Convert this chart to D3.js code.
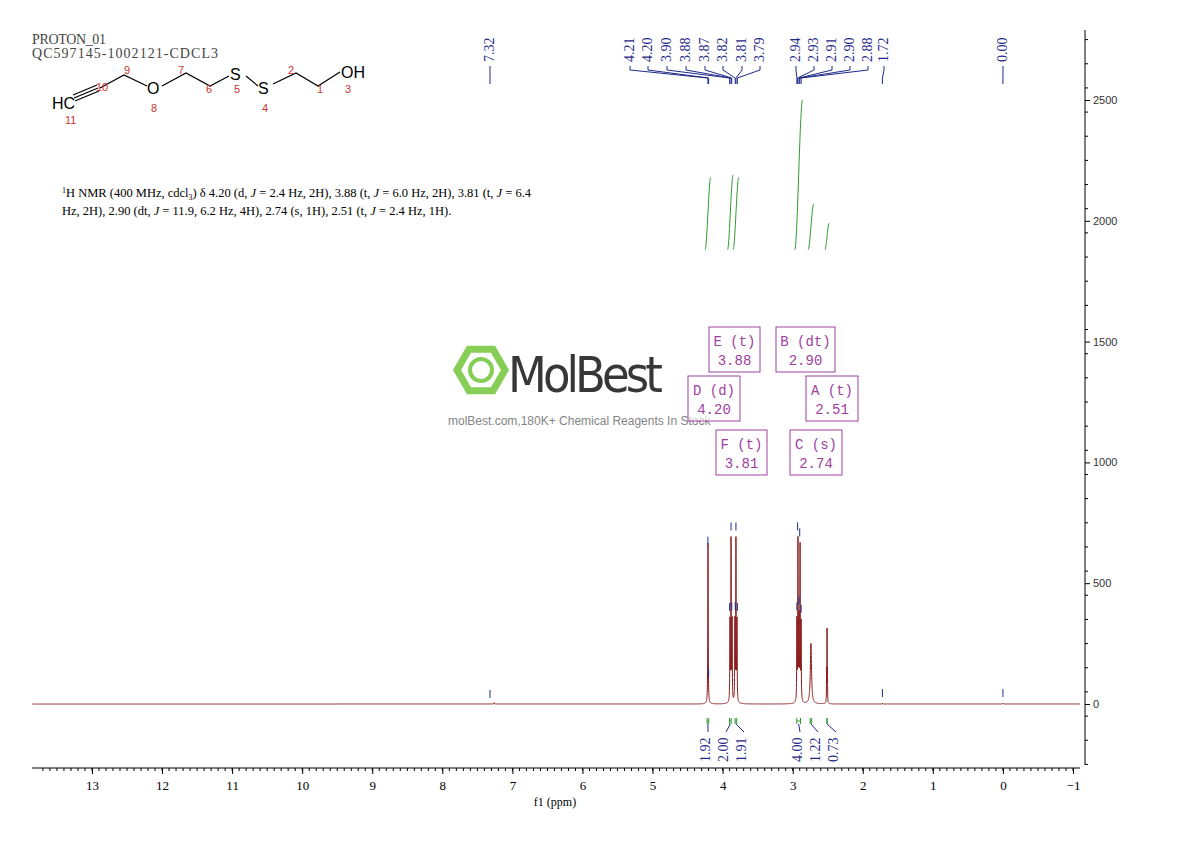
<!DOCTYPE html>
<html><head><meta charset="utf-8">
<script src="https://cdn.jsdelivr.net/npm/d3@7"></script>
<style>body{margin:0;background:#fff}</style>
</head><body>
<svg id="c" width="1190" height="841"></svg>
<script>
// peak lines: ppm and height (intensity units)
const peakPpm    = [7.26, 4.2095, 4.2075, 3.895, 3.880, 3.865, 3.825, 3.810, 3.795, 2.940, 2.925, 2.910, 2.895, 2.880, 2.74, 2.516, 2.510, 2.504, 1.72, 0.00];
const peakHeight = [6,    375,    375,    330,   665,   330,   330,   665,   330,   330,   660,   330,   635,   320,   250, 120,   290,   120,   4,    4];
const peakWidth  = [0.004,0.003,0.003,0.003,0.003,0.003,0.003,0.003,0.003,0.003,0.003,0.003,0.003,0.003,0.010,0.002,0.002,0.002,0.004,0.004];
const topLabels  = ["7.32","4.21","4.20","3.90","3.88","3.87","3.82","3.81","3.79","2.94","2.93","2.91","2.90","2.88","1.72","0.00"];
const topLabelPpm= [7.32,4.21,4.20,3.90,3.88,3.87,3.82,3.81,3.79,2.94,2.93,2.91,2.90,2.88,1.72,0.00];
const intFrom    = [4.25, 3.93, 3.85, 2.97, 2.78, 2.54];
const intTo      = [4.17, 3.85, 3.77, 2.86, 2.70, 2.48];
const intRise    = [300, 310, 300, 620, 190, 110];
const intValues  = ["1.92","2.00","1.91","4.00","1.22","0.73"];
const multLetter = ["E (t)","B (dt)","D (d)","A (t)","F (t)","C (s)"];
const multShift  = ["3.88","2.90","4.20","2.51","3.81","2.74"];
const xTicks = d3.range(13, -2, -1);
const yTicks = [0, 500, 1000, 1500, 2000, 2500];

const svg = d3.select("#c");
const x = d3.scaleLinear().domain([13.856, -1.1]).range([32, 1080]);
const y = d3.scaleLinear().domain([0, 2500]).range([704, 100]);
const serif = "'Liberation Serif', 'DejaVu Serif', serif";
const blue = "#1f2a8a", purple = "#a040a0", green = "#2f9a2f", red = "#8b1a1a";
const intensity = p => d3.sum(peakPpm, (c, i) => peakHeight[i] / (1 + ((p - c) / peakWidth[i]) ** 2));

// x axis
const xa = svg.append("g").attr("transform", "translate(0,768)")
  .call(d3.axisBottom(x).tickValues(xTicks).tickSize(6).tickFormat(d => d < 0 ? "\u2212" + (-d) : d));
xa.select(".domain").attr("d", "M32,0H1080");
xa.selectAll("text").attr("font-family", serif).attr("font-size", 13).attr("dy", "1.0em");
svg.append("g").selectAll("line").data(d3.range(-10, 138).map(d => d / 10)).join("line")
  .attr("x1", d => x(d)).attr("x2", d => x(d)).attr("y1", 768).attr("y2", 771).attr("stroke", "#000");
svg.append("text").attr("x", 555).attr("y", 806).attr("text-anchor", "middle")
  .attr("font-family", serif).attr("font-size", 12).text("f1 (ppm)");

// y axis right
const ya = svg.append("g").attr("transform", "translate(1085,0)")
  .call(d3.axisRight(y).tickValues(yTicks).tickSize(5).tickFormat(d3.format("d")));
ya.select(".domain").attr("d", "M0,30V765");
ya.selectAll("text").attr("font-family", "'Liberation Sans', sans-serif").attr("font-size", 11).attr("fill", "#333");
svg.append("g").selectAll("line").data(d3.range(-250, 2800, 100)).join("line")
  .attr("x1", 1085).attr("x2", 1088).attr("y1", d => y(d)).attr("y2", d => y(d)).attr("stroke", "#000");

// watermark
const wm = svg.append("g").attr("opacity", 0.9);
const hex = d3.range(6).map(i => [481 + 24 * Math.cos(Math.PI / 3 * i), 370 + 24 * Math.sin(Math.PI / 3 * i)]);
wm.append("polygon").attr("points", hex.join(" ")).attr("fill", "none").attr("stroke", "#7ac943").attr("stroke-width", 7);
wm.append("circle").attr("cx", 481).attr("cy", 370).attr("r", 11).attr("fill", "none").attr("stroke", "#7ac943").attr("stroke-width", 4);
wm.append("text").attr("x", 508).attr("y", 392).attr("font-family", "'DejaVu Sans Condensed', 'Liberation Sans Narrow', sans-serif")
  .attr("font-size", 50).attr("fill", "#222").attr("textLength", 155).text("MolBest");
wm.append("text").attr("x", 448).attr("y", 425).attr("font-family", "'Liberation Sans', sans-serif")
  .attr("font-size", 12).attr("fill", "#777").text("molBest.com,180K+ Chemical Reagents In Stock");

// spectrum
const grid = d3.range(13.85, -1.1, -0.001).concat(peakPpm).sort((a, b) => b - a);
const spec = grid.map(p => [p, intensity(p)]);
svg.append("path").datum(spec).attr("fill", "none").attr("stroke", red).attr("stroke-width", 1)
  .attr("d", d3.line().x(d => x(d[0])).y(d => y(d[1])));

// peak-pick markers
svg.append("g").selectAll("line").data(topLabelPpm).join("line")
  .attr("x1", d => x(d)).attr("x2", d => x(d))
  .attr("y1", d => y(d3.max(peakPpm.filter(c => Math.abs(c - d) < 0.006).map(intensity).concat([intensity(d)]))) - 14)
  .attr("y2", d => y(d3.max(peakPpm.filter(c => Math.abs(c - d) < 0.006).map(intensity).concat([intensity(d)]))) - 6)
  .attr("stroke", blue);

// top labels
const labelX = [490, 630, 648, 667, 686, 705, 723, 742, 760, 796, 814, 832, 850, 868, 884, 1003];
const tl = svg.append("g");
topLabels.forEach((t, i) => {
  const lx = labelX[i], px = x(topLabelPpm[i]);
  tl.append("text").attr("transform", `translate(${lx + 4},62) rotate(-90)`)
    .attr("font-family", serif).attr("font-size", 14).attr("fill", blue).text(t);
  tl.append("path").attr("d", `M${lx},66V70L${px},78V84`).attr("fill", "none").attr("stroke", blue);
});

// integrals (top curves)
intFrom.forEach((f, i) => {
  const pts = d3.range(0, 1.001, 0.05).map(s => [f + (intTo[i] - f) * s, 1880 + intRise[i] * (s * s * (3 - 2 * s))]);
  svg.append("path").datum(pts).attr("fill", "none").attr("stroke", green)
    .attr("d", d3.line().x(d => x(d[0])).y(d => y(d[1])).curve(d3.curveBasis));
});

// integral labels at bottom
const intLabelX = [705, 723, 741, 797, 815, 833];
intFrom.forEach((f, i) => {
  const a = x(f) + 2, b = x(intTo[i]) - 2;
  svg.append("path").attr("d", `M${a},718V724M${a},721H${b}M${b},718V724`).attr("stroke", green).attr("fill", "none");
  svg.append("path").attr("d", `M${(a + b) / 2},724L${intLabelX[i] + 3},732`).attr("stroke", blue).attr("fill", "none");
  svg.append("text").attr("transform", `translate(${intLabelX[i] + 5},762) rotate(-90)`)
    .attr("font-family", serif).attr("font-size", 14).attr("fill", blue).text(intValues[i]);
});

// multiplet boxes
const boxX = [709, 776, 688, 806, 716, 790], boxY = [327, 327, 376, 376, 430, 430], boxW = [51, 59, 52, 52, 51, 52];
multLetter.forEach((m, i) => {
  svg.append("rect").attr("x", boxX[i]).attr("y", boxY[i]).attr("width", boxW[i]).attr("height", 45)
    .attr("fill", "#fff").attr("fill-opacity", 0.6).attr("stroke", purple);
  svg.append("text").attr("x", boxX[i] + boxW[i] / 2).attr("y", boxY[i] + 19).attr("text-anchor", "middle")
    .attr("font-family", "'Liberation Mono', monospace").attr("font-size", 14).attr("fill", purple).text(m);
  svg.append("text").attr("x", boxX[i] + boxW[i] / 2).attr("y", boxY[i] + 38).attr("text-anchor", "middle")
    .attr("font-family", "'Liberation Mono', monospace").attr("font-size", 14).attr("fill", purple).text(multShift[i]);
});

// header text
svg.append("text").attr("x", 32).attr("y", 44).attr("font-family", serif).attr("font-size", 14).attr("fill", "#444").attr("textLength", 74).text("PROTON_01");
svg.append("text").attr("x", 32).attr("y", 58).attr("font-family", serif).attr("font-size", 14).attr("fill", "#444").attr("textLength", 186).text("QC597145-1002121-CDCL3");

// structure
const st = svg.append("g").attr("stroke", "#000").attr("fill", "none").attr("stroke-width", 1.2);
st.append("path").attr("d", "M100,88L124,75L147,86M162,86L186,73L210,86L229,76M246,76L258,86M273,84L296,73L318,86L340,72");
st.append("path").attr("d", "M74,98L98,88M73,95L97,85M75,101L99,91");
const sf = "'Liberation Sans', sans-serif";
[["HC", 52, 109, "#000", 16], ["O", 147, 94, "#000", 16], ["S", 230, 80, "#000", 16], ["S", 258, 94, "#000", 16], ["OH", 341, 78, "#000", 16],
 ["11", 65, 124, "#c33", 11], ["10", 96, 91, "#c33", 11], ["9", 124, 74, "#c33", 11], ["8", 151, 112, "#c33", 11], ["7", 178, 74, "#c33", 11],
 ["6", 206, 93, "#c33", 11], ["5", 234, 93, "#c33", 11], ["4", 262, 112, "#c33", 11], ["2", 288, 74, "#c33", 11], ["1", 317, 93, "#c33", 11], ["3", 345, 93, "#c33", 11]]
  .forEach(d => svg.append("text").attr("x", d[1]).attr("y", d[2]).attr("font-family", sf).attr("font-size", d[4]).attr("fill", d[3]).text(d[0]));

// description
const desc = svg.append("g").attr("font-family", serif).attr("font-size", 12.5);
const l1 = desc.append("text").attr("x", 62).attr("y", 197);
l1.append("tspan").attr("font-size", 8).attr("dy", -4).text("1");
l1.append("tspan").attr("dy", 4).html("H NMR (400 MHz, cdcl<tspan font-size='8' dy='3'>3</tspan><tspan dy='-3'>) δ 4.20 (d, </tspan><tspan font-style='italic'>J</tspan> = 2.4 Hz, 2H), 3.88 (t, <tspan font-style='italic'>J</tspan> = 6.0 Hz, 2H), 3.81 (t, <tspan font-style='italic'>J</tspan> = 6.4");
desc.append("text").attr("x", 62).attr("y", 215)
  .html("Hz, 2H), 2.90 (dt, <tspan font-style='italic'>J</tspan> = 11.9, 6.2 Hz, 4H), 2.74 (s, 1H), 2.51 (t, <tspan font-style='italic'>J</tspan> = 2.4 Hz, 1H).");
</script>
</body></html>
